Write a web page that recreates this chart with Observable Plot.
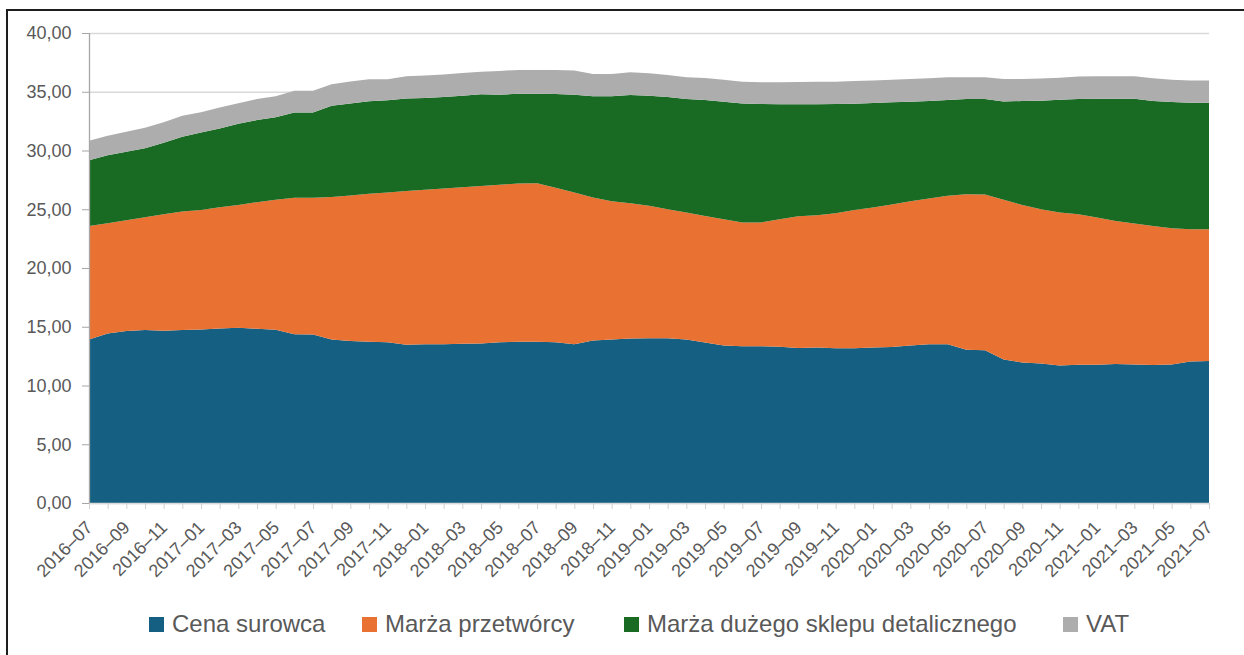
<!DOCTYPE html>
<html><head><meta charset="utf-8">
<script src="https://cdn.jsdelivr.net/npm/d3@7"></script>
<script src="https://cdn.jsdelivr.net/npm/@observablehq/plot@0.6"></script>
<style>
html,body{margin:0;padding:0;background:#fff;width:1244px;height:655px;overflow:hidden;font-family:"Liberation Sans",Arial,sans-serif;}
#frame{position:absolute;left:6px;top:9px;width:1270px;height:700px;border:2px solid #1e1e1e;box-sizing:border-box;}
#chart{position:absolute;left:0;top:0;}
.item{position:absolute;top:609px;height:30px;display:flex;align-items:center;font-size:24px;color:#595959;white-space:nowrap;line-height:1;}
.sw{width:15px;height:15px;margin-right:8px;flex:none;}
</style></head><body>
<div id="frame"></div>
<div id="chart"></div>
<div id="legend"></div>
<script>
const months = ["2016–07","2016–08","2016–09","2016–10","2016–11","2016–12",
"2017–01","2017–02","2017–03","2017–04","2017–05","2017–06","2017–07","2017–08","2017–09","2017–10","2017–11","2017–12",
"2018–01","2018–02","2018–03","2018–04","2018–05","2018–06","2018–07","2018–08","2018–09","2018–10","2018–11","2018–12",
"2019–01","2019–02","2019–03","2019–04","2019–05","2019–06","2019–07","2019–08","2019–09","2019–10","2019–11","2019–12",
"2020–01","2020–02","2020–03","2020–04","2020–05","2020–06","2020–07","2020–08","2020–09","2020–10","2020–11","2020–12",
"2021–01","2021–02","2021–03","2021–04","2021–05","2021–06","2021–07"];

const series = ["Cena surowca","Marża przetwórcy","Marża dużego sklepu detalicznego","VAT"];
const colors = ["#156082","#E97132","#196B24","#ADADAD"];

const cenaSurowca = [13.92,14.43,14.63,14.72,14.66,14.72,14.77,14.86,14.92,14.83,14.75,14.37,14.35,13.92,13.78,13.72,13.69,13.47,13.52,13.52,
13.55,13.58,13.69,13.72,13.72,13.69,13.52,13.83,13.92,14.00,14.03,14.03,13.92,13.66,13.41,13.35,13.35,13.30,13.20,13.24,
13.18,13.18,13.24,13.27,13.41,13.52,13.52,13.04,13.01,12.22,11.96,11.88,11.71,11.77,11.77,11.82,11.79,11.74,11.79,12.05,12.08];

const marzaPrzetworcy = [9.66,9.38,9.44,9.60,9.92,10.09,10.17,10.31,10.45,10.77,11.05,11.60,11.62,12.13,12.39,12.59,12.74,13.08,13.13,13.25,
13.33,13.39,13.39,13.48,13.50,13.13,12.91,12.17,11.77,11.52,11.26,10.97,10.80,10.77,10.74,10.52,10.52,10.85,11.21,11.26,
11.48,11.76,11.91,12.13,12.28,12.40,12.62,13.24,13.25,13.58,13.41,13.12,13.01,12.81,12.53,12.18,11.99,11.84,11.59,11.25,11.22];

const marzaSklepu = [5.60,5.79,5.83,5.88,6.08,6.36,6.60,6.71,6.91,6.99,7.02,7.27,7.27,7.76,7.83,7.89,7.84,7.87,7.82,7.78,
7.78,7.81,7.67,7.63,7.61,7.98,8.32,8.61,8.92,9.20,9.37,9.55,9.66,9.87,10.00,10.14,10.09,9.78,9.52,9.43,
9.30,9.04,8.89,8.70,8.46,8.29,8.16,8.10,8.12,8.38,8.84,9.24,9.60,9.80,10.11,10.41,10.63,10.63,10.75,10.77,10.77];

const vat = [1.65,1.66,1.70,1.74,1.74,1.79,1.71,1.77,1.74,1.79,1.79,1.85,1.85,1.83,1.87,1.87,1.80,1.89,1.91,1.91,
1.94,1.93,2.02,2.03,2.03,2.06,2.05,1.90,1.90,1.94,1.91,1.88,1.85,1.87,1.88,1.85,1.84,1.87,1.90,1.92,
1.90,1.94,1.91,1.93,1.94,1.93,1.93,1.85,1.85,1.91,1.88,1.88,1.88,1.91,1.91,1.91,1.91,1.93,1.90,1.88,1.88];

const yTicks = [0,5,10,15,20,25,30,35,40];

const values = [cenaSurowca, marzaPrzetworcy, marzaSklepu, vat];
const rows = [];
series.forEach((s, k) => months.forEach((m, i) => rows.push({i, m, s, v: values[k][i]})));

const font = "'Liberation Sans', Arial, sans-serif";
const chart = Plot.plot({
  width: 1244, height: 600,
  marginLeft: 89, marginRight: 35, marginTop: 33, marginBottom: 97,
  style: {fontFamily: font, fontSize: "18px", color: "#595959", background: "transparent", overflow: "visible"},
  x: {type: "linear", domain: [0, months.length - 1]},
  y: {domain: [0, 40]},
  color: {domain: series, range: colors},
  marks: [
    Plot.gridY(yTicks, {stroke: "#d9d9d9", strokeOpacity: 1, strokeWidth: 1.3}),
    Plot.areaY(rows, {x: "i", y: "v", z: "s", fill: "s", curve: "linear"}),
    Plot.ruleY([0], {stroke: "#d9d9d9", strokeWidth: 1.3}),
    Plot.ruleX([0], {y1: 0, y2: 40, stroke: "#a6a6a6", strokeWidth: 1.3}),
    Plot.axisY(yTicks, {tickSize: 7, tickPadding: 11, fontSize: 18, tickFormat: d => d.toFixed(2).replace(".", ","), stroke: "#a6a6a6", fill: "#595959", label: null}),
    Plot.axisX(d3.range(months.length), {tickSize: 6, tickPadding: 15, fontSize: 18, tickFormat: i => i % 2 === 0 ? months[i] : "", tickRotate: -45, label: null, stroke: "#d0d0d0", fill: "#595959"})
  ]
});
document.getElementById("chart").appendChild(chart);

const legendX = [149, 362, 624, 1063];
const legend = document.getElementById("legend");
series.forEach((s, k) => {
  const it = document.createElement("div");
  it.className = "item";
  it.style.left = legendX[k] + "px";
  const sw = document.createElement("span");
  sw.className = "sw";
  sw.style.background = colors[k];
  const tx = document.createElement("span");
  tx.textContent = s;
  it.appendChild(sw); it.appendChild(tx);
  legend.appendChild(it);
});
</script>
</body></html>
